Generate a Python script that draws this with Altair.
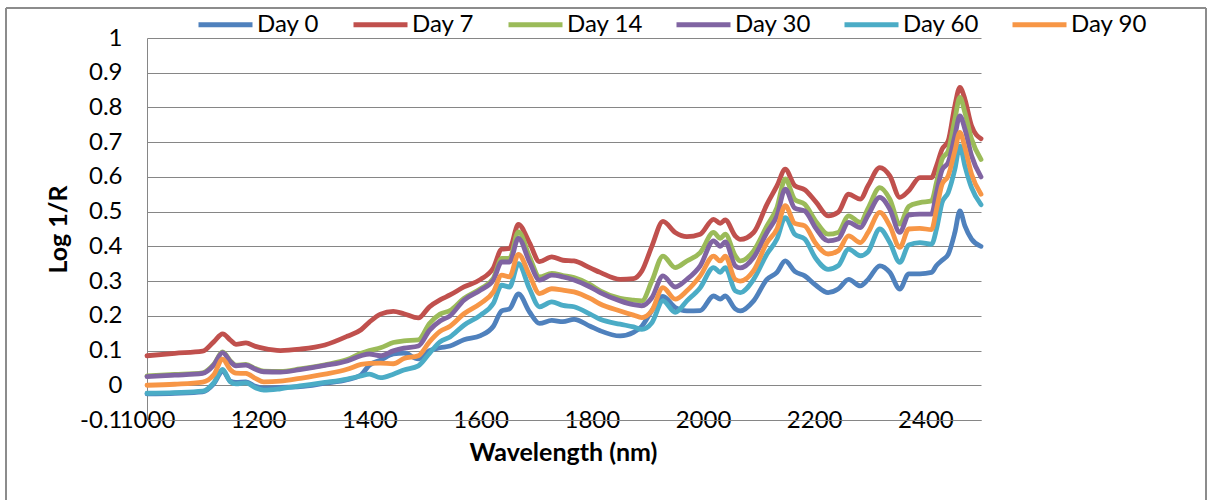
import altair as alt
import pandas as pd

wavelength = [1000, 1050, 1100, 1120, 1136, 1150, 1160, 1178, 1195, 1210, 1240, 1275, 1320, 1360, 1385,
              1400, 1420, 1443, 1462, 1488, 1508, 1527, 1545, 1570, 1600, 1623, 1638, 1652, 1668, 1688,
              1706, 1728, 1748, 1768, 1797, 1815, 1851, 1875, 1890, 1908, 1928, 1950, 1971, 1995, 2019,
              2031, 2040, 2058, 2067, 2091, 2115, 2133, 2148, 2165, 2183, 2203, 2225, 2243, 2262, 2283,
              2297, 2318, 2336, 2354, 2370, 2390, 2411, 2420, 2430, 2441, 2453, 2462, 2471, 2483, 2500]

day0 = [-0.025, -0.023, -0.019, 0.004, 0.040, 0.012, 0.008, 0.010, -0.003, -0.008, -0.006, -0.004, 0.006, 0.016, 0.030,
        0.058, 0.072, 0.090, 0.093, 0.076, 0.100, 0.108, 0.113, 0.131, 0.143, 0.170, 0.214, 0.220, 0.263, 0.211,
        0.178, 0.187, 0.183, 0.190, 0.170, 0.157, 0.142, 0.152, 0.170, 0.215, 0.256, 0.224, 0.214, 0.215, 0.257,
        0.248, 0.257, 0.220, 0.214, 0.243, 0.305, 0.325, 0.358, 0.328, 0.315, 0.288, 0.267, 0.277, 0.305, 0.286,
        0.305, 0.344, 0.325, 0.277, 0.321, 0.321, 0.325, 0.345, 0.360, 0.377, 0.440, 0.502, 0.459, 0.421, 0.400]

day7 = [0.085, 0.092, 0.098, 0.125, 0.148, 0.130, 0.118, 0.122, 0.112, 0.106, 0.100, 0.104, 0.116, 0.141, 0.160,
        0.182, 0.205, 0.213, 0.206, 0.194, 0.226, 0.246, 0.260, 0.283, 0.305, 0.338, 0.392, 0.394, 0.463, 0.410,
        0.356, 0.370, 0.360, 0.358, 0.338, 0.325, 0.305, 0.307, 0.329, 0.400, 0.472, 0.440, 0.428, 0.435, 0.478,
        0.466, 0.476, 0.430, 0.420, 0.440, 0.521, 0.574, 0.622, 0.575, 0.563, 0.528, 0.488, 0.498, 0.550, 0.536,
        0.575, 0.627, 0.603, 0.541, 0.560, 0.598, 0.598, 0.632, 0.680, 0.704, 0.805, 0.858, 0.824, 0.747, 0.710]

day14 = [0.027, 0.031, 0.036, 0.060, 0.096, 0.070, 0.058, 0.060, 0.048, 0.041, 0.040, 0.047, 0.059, 0.074, 0.092,
         0.100, 0.108, 0.123, 0.128, 0.131, 0.178, 0.205, 0.215, 0.250, 0.278, 0.308, 0.365, 0.365, 0.442, 0.370,
         0.312, 0.322, 0.316, 0.310, 0.290, 0.272, 0.250, 0.245, 0.243, 0.300, 0.372, 0.339, 0.358, 0.382, 0.440,
         0.423, 0.435, 0.373, 0.358, 0.387, 0.459, 0.512, 0.594, 0.535, 0.521, 0.472, 0.435, 0.440, 0.488, 0.469,
         0.510, 0.569, 0.536, 0.464, 0.515, 0.526, 0.531, 0.584, 0.651, 0.675, 0.766, 0.829, 0.786, 0.709, 0.650]

day30 = [0.025, 0.029, 0.034, 0.058, 0.094, 0.068, 0.056, 0.058, 0.046, 0.039, 0.038, 0.045, 0.057, 0.070, 0.085,
         0.090, 0.085, 0.099, 0.107, 0.113, 0.158, 0.185, 0.200, 0.245, 0.274, 0.303, 0.355, 0.355, 0.423, 0.355,
         0.303, 0.317, 0.312, 0.303, 0.283, 0.267, 0.243, 0.232, 0.229, 0.252, 0.315, 0.283, 0.305, 0.344, 0.416,
         0.400, 0.413, 0.344, 0.338, 0.368, 0.440, 0.488, 0.565, 0.510, 0.502, 0.452, 0.416, 0.421, 0.469, 0.454,
         0.490, 0.541, 0.507, 0.440, 0.490, 0.493, 0.493, 0.555, 0.620, 0.642, 0.718, 0.776, 0.738, 0.661, 0.600]

day60 = [-0.023, -0.021, -0.017, 0.007, 0.046, 0.010, 0.004, 0.007, -0.007, -0.014, -0.010, -0.002, 0.008, 0.018, 0.027,
         0.032, 0.022, 0.032, 0.044, 0.056, 0.092, 0.125, 0.139, 0.173, 0.202, 0.236, 0.288, 0.283, 0.350, 0.278,
         0.226, 0.240, 0.230, 0.226, 0.205, 0.190, 0.176, 0.168, 0.161, 0.180, 0.243, 0.210, 0.243, 0.281, 0.339,
         0.325, 0.339, 0.272, 0.267, 0.305, 0.378, 0.421, 0.483, 0.435, 0.421, 0.365, 0.334, 0.344, 0.392, 0.373,
         0.385, 0.450, 0.411, 0.354, 0.404, 0.411, 0.406, 0.450, 0.526, 0.555, 0.622, 0.689, 0.632, 0.569, 0.520]

day90 = [0.000, 0.003, 0.009, 0.030, 0.075, 0.045, 0.035, 0.034, 0.020, 0.010, 0.012, 0.020, 0.032, 0.046, 0.060,
         0.063, 0.064, 0.062, 0.077, 0.085, 0.125, 0.155, 0.170, 0.206, 0.236, 0.269, 0.317, 0.312, 0.377, 0.317,
         0.264, 0.278, 0.274, 0.269, 0.250, 0.234, 0.214, 0.202, 0.195, 0.215, 0.281, 0.248, 0.272, 0.315, 0.372,
         0.358, 0.372, 0.305, 0.300, 0.330, 0.411, 0.450, 0.517, 0.466, 0.459, 0.408, 0.378, 0.387, 0.430, 0.411,
         0.440, 0.498, 0.459, 0.397, 0.450, 0.452, 0.448, 0.507, 0.579, 0.603, 0.675, 0.728, 0.685, 0.608, 0.550]

series_names = ["Day 0", "Day 7", "Day 14", "Day 30", "Day 60", "Day 90"]
series_values = [day0, day7, day14, day30, day60, day90]
colors = ["#4F81BD", "#C0504D", "#9BBB59", "#8064A2", "#4BACC6", "#F79646"]

x_ticks = [1000, 1200, 1400, 1600, 1800, 2000, 2200, 2400]
y_ticks = [-0.1, 0, 0.1, 0.2, 0.3, 0.4, 0.5, 0.6, 0.7, 0.8, 0.9, 1]

rows = []
for name, vals in zip(series_names, series_values):
    for w, v in zip(wavelength, vals):
        rows.append({"Series": name, "Wavelength": w, "Value": v})
df = pd.DataFrame(rows)

FONT = "Lato"
GRID = "#868686"
LABEL_SIZE = 24
TITLE_SIZE = 25

W, H = 834, 382

lines = alt.Chart(df).mark_line(
    strokeWidth=4.8, interpolate="monotone", strokeCap="round", strokeJoin="round"
).encode(
    x=alt.X(
        "Wavelength:Q",
        scale=alt.Scale(domain=[1000, 2500], nice=False, zero=False),
        axis=alt.Axis(
            values=x_ticks, format="d", title="Wavelength (nm)", grid=False, ticks=False,
            labelBaseline="middle", labelPadding=0, labelFlush=False, labelFont=FONT,
            labelFontSize=LABEL_SIZE, labelColor="black", domainColor=GRID, domainWidth=1,
            titleFont=FONT, titleFontSize=TITLE_SIZE, titleFontWeight="bold", titleColor="black",
            titleX=416, titleY=32, titleBaseline="middle", titleAlign="center",
        ),
    ),
    y=alt.Y(
        "Value:Q",
        scale=alt.Scale(domain=[-0.1, 1], nice=False, zero=False),
        axis=alt.Axis(
            values=y_ticks, title="Log 1/R", grid=True, gridColor=GRID, gridWidth=1, gridOpacity=1,
            ticks=False, labelPadding=25, labelFont=FONT, labelFontSize=LABEL_SIZE, labelColor="black",
            labelExpr="datum.value < 0 ? '-0.1' : format(datum.value, '~g')",
            domainColor=GRID, domainWidth=1,
            titleFont=FONT, titleFontSize=TITLE_SIZE, titleFontWeight="bold", titleColor="black",
            titleX=-89, titleY=191, titleAngle=270, titleBaseline="middle", titleAlign="center",
        ),
    ),
    color=alt.Color(
        "Series:N",
        scale=alt.Scale(domain=series_names, range=colors),
        legend=alt.Legend(
            orient="none", legendX=49, legendY=-43, direction="horizontal", title=None,
            symbolType="stroke", symbolSize=2916, symbolStrokeWidth=4.8,
            labelFont=FONT, labelFontSize=LABEL_SIZE, labelColor="black", labelOffset=2,
            columnPadding=23, padding=0,
        ),
    ),
)

frame_data = pd.DataFrame({"k": [0]})
frame_top = alt.Chart(frame_data).mark_rule(color="#8c8c8c", strokeWidth=2).encode(
    x=alt.value(-141), x2=alt.value(1059), y=alt.value(-30)
)
frame_left = alt.Chart(frame_data).mark_rule(color="#8c8c8c", strokeWidth=2).encode(
    x=alt.value(-141), y=alt.value(-30), y2=alt.value(470)
)
frame_right = alt.Chart(frame_data).mark_rule(color="#8c8c8c", strokeWidth=2).encode(
    x=alt.value(1059), y=alt.value(-30), y2=alt.value(470)
)

chart = alt.layer(lines, frame_top, frame_left, frame_right).properties(
    width=W, height=H,
    autosize=alt.AutoSizeParams(type="none"),
    padding={"left": 147, "top": 38, "right": 227, "bottom": 80},
    background="white",
).configure_view(stroke=None)

chart.save("out.html", embed_options={"renderer": "svg", "actions": False})
